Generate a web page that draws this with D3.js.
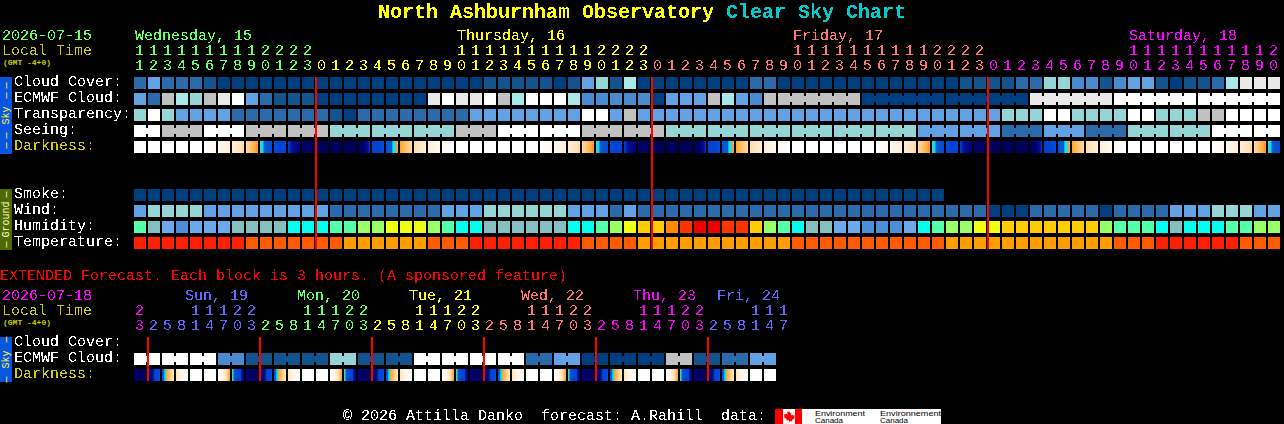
<!DOCTYPE html>
<html><head><meta charset="utf-8">
<script src="https://cdn.jsdelivr.net/npm/d3@7/dist/d3.min.js"></script>
<style>
html,body{margin:0;padding:0;background:#000;overflow:hidden}
svg{display:block}
text{font-family:"Liberation Mono","DejaVu Sans Mono",monospace;font-size:15px;white-space:pre;filter:url(#crisp)}
text.small{filter:none}
</style></head><body>
<svg id="c" width="1284" height="424"></svg>
<script>
// ---- hours of the hourly forecast ----
const hours = [11,12,13,14,15,16,17,18,19,20,21,22,23,
 0,1,2,3,4,5,6,7,8,9,10,11,12,13,14,15,16,17,18,19,20,21,22,23,
 0,1,2,3,4,5,6,7,8,9,10,11,12,13,14,15,16,17,18,19,20,21,22,23,
 0,1,2,3,4,5,6,7,8,9,10,11,12,13,14,15,16,17,18,19,20];
const days = ["Wednesday, 15","Thursday, 16","Friday, 17","Saturday, 18"];
const dayCols = [0,23,47,71];
const dayColors = ["#66ff66","#ffff00","#ff7777","#ff00ff"];

// ---- sky levels: 0 darkest blue ... 9 white ----
const skyColors = ["#003f7f","#13548f","#2b6bab","#4a8bd0","#62a2e4","#95d5d5","#a8e8e8","#c1c1c1","#e9e9e9","#ffffff"];
const cloudCover = [2,4,2,2,2,1,0,0,0,0,0,0,0,0,0,0,0,0,0,0,0,0,0,0,0,1,1,1,1,1,0,1,4,5,1,6,0,0,0,0,0,0,0,0,2,2,0,0,0,0,0,0,0,0,0,0,0,0,0,1,1,1,1,2,2,5,5,3,3,1,3,4,4,1,0,1,1,2,6,8,8,8];
const ecmwf = [4,2,7,6,5,7,8,9,4,2,1,1,1,0,0,0,0,0,0,0,0,8,9,8,8,9,7,6,9,9,9,6,3,3,3,3,3,0,4,4,4,7,6,4,3,7,7,7,7,7,7,7,0,0,0,0,0,0,0,0,0,0,0,0,8,8,8,8,8,8,9,9,9,9,9,9,9,9,9,9,9,9];
const ecmwfJoins = [[46,51],[52,57],[58,63],[64,69],[70,75],[76,81]];
const transparency = [5,9,5,4,4,4,4,2,2,2,2,2,2,2,1,0,2,2,2,2,2,2,2,2,4,4,4,4,4,4,4,4,9,9,4,7,4,4,4,4,4,4,4,4,4,4,4,4,4,4,4,4,4,4,4,4,4,4,4,4,4,4,5,5,5,9,9,5,5,5,5,9,9,5,5,5,7,7,9,9,9,9];
const seeing = [9,9,7,7,7,9,9,9,7,7,7,7,7,7,5,5,5,5,5,5,5,5,5,7,7,7,9,9,9,9,9,9,7,7,7,7,7,7,5,5,5,5,5,5,5,5,5,5,5,5,5,5,5,5,5,5,4,4,4,4,4,4,2,2,2,4,4,4,2,2,2,5,5,5,5,5,5,9,9,9,9,9];
const seeingJoins = [[0,1],[2,4],[5,7],[8,10],[11,13],[14,16],[17,19],[20,22],[23,25],[26,28],[29,31],[32,34],[35,37],[38,40],[41,43],[44,46],[47,49],[50,52],[53,55],[56,58],[59,61],[62,64],[65,67],[68,70],[71,73],[74,76],[77,79],[80,81]];
const smoke = [0,0,0,0,0,0,0,0,0,0,0,0,0,0,0,0,0,0,0,0,0,0,0,0,0,0,0,0,0,0,0,0,0,0,0,0,0,0,0,0,0,0,0,0,0,0,0,0,0,0,0,0,0,0,0,0,0,0];
const wind = [4,5,5,5,5,4,4,4,4,4,4,4,4,4,2,2,2,2,2,2,2,2,4,4,4,5,5,5,5,5,5,4,4,4,2,4,2,2,2,2,2,2,2,2,2,2,2,2,2,2,2,2,2,2,2,2,2,2,2,2,2,0,0,0,2,2,2,2,2,0,2,2,2,2,4,4,4,5,5,5,4,4];

// ---- humidity and temperature levels ----
const humidityColors = ["#ee0000","#ff3300","#ff8800","#ffcc00","#eeff11","#99ff66","#55ffaa","#00ffee","#85bfbf","#6ba9ea","#4d8fd6"];
const humidity = [6,8,9,10,9,9,9,8,8,8,8,7,7,7,6,6,5,5,4,4,4,5,6,7,7,8,8,8,8,8,8,7,7,6,5,4,3,3,2,1,0,0,1,1,3,5,6,7,8,8,9,9,10,10,10,9,7,6,5,5,4,4,3,3,3,3,3,3,3,5,6,6,6,7,8,7,7,7,6,6,5,5];
const tempColors = ["#ff2000","#ff5a00","#ff9d00"];
const temperature = [0,0,0,0,0,0,0,0,1,1,1,1,1,1,1,2,2,2,2,2,2,1,1,1,0,0,0,0,0,0,0,0,1,1,1,1,2,2,2,2,2,2,2,2,2,2,2,1,1,1,1,1,1,1,1,1,1,1,2,2,2,2,2,2,2,2,2,2,2,2,1,1,1,0,0,0,0,0,0,1,1,1];

// ---- darkness: one value per cell edge (0 daylight ... 9 full night) ----
const darkStops = [0,1,2,3,4,4.3,4.4,4.6,4.75,6,7,7.3,8,9];
const darkColors = ["#ffffff","#fff9ef","#ffeed6","#ffdcaa","#ffab3c","#ff9c00","#00e5ff","#00e5ff","#0a58d8","#0044d4","#0044d4","#00109a","#000070","#00005a"];
const darkness = [0,0,0,0,0,0,1,2,3,4.3,5.6,7,8,9,9,9,9,7,5.3,4.1,3,2,1,0,
 0,0,0,0,0,0,1,2,3,4.3,5.6,7,8,9,9,9,9,7,5.3,4.1,3,2,1,0,
 0,0,0,0,0,0,1,2,3,4.3,5.6,7,8,9,9,9,9,7,5.3,4.1,3,2,1,0,
 0,0,0,0,0,0,1,2,3,4.3,5.6];

// ---- extended forecast ----
const extHours = [23,2,5,8,11,14,17,20,23,2,5,8,11,14,17,20,23,2,5,8,11,14,17,20,23,2,5,8,11,14,17,20,23,2,5,8,11,14,17,20,23,2,5,8,11,14,17];
const extDays = ["Sun, 19","Mon, 20","Tue, 21","Wed, 22","Thu, 23","Fri, 24"];
const extDayCols = [4,12,20,28,36,42];
const extDayColors = ["#6666ff","#66ff66","#ffff00","#ff7777","#ff00ff","#6666ff"];
const extEcmwf = [9,9,9,9,9,9,3,3,1,1,1,1,1,1,5,5,1,1,1,1,9,9,9,9,9,9,9,9,2,2,4,4,0,0,0,0,0,0,7,7,1,1,2,2,4,4];
const extJoins = [[0,1],[2,3],[4,5],[6,7],[8,9],[10,11],[12,13],[14,15],[16,17],[18,19],[20,21],[22,23],[24,25],[26,27],[28,29],[30,31],[32,33],[34,35],[36,37],[38,39],[40,41],[42,43],[44,45]];
const extDarkness = [8.5,9,5.2,2.5,0.2,0,0,4.2,8,9,5.2,2.5,0.2,0,0,4.2,8,9,5.2,2.5,0.2,0,0,4.2,8,9,5.2,2.5,0.2,0,0,4.2,8,9,5.2,2.5,0.2,0,0,4.2,8,9,5.2,2.5,0.2,0,0];

const YEL="#cccc00", WHITE="#ffffff";
const svg = d3.select("#c");
const defs = svg.append("defs");
// threshold the glyph edges so the text keeps the hard, bitmap look of the reference
const crisp = defs.append("filter").attr("id","crisp").attr("color-interpolation-filters","sRGB")
  .attr("x","-5%").attr("y","-20%").attr("width","110%").attr("height","140%");
crisp.append("feComponentTransfer").append("feFuncA").attr("type","discrete").attr("tableValues","0 1");
svg.append("rect").attr("width",1284).attr("height",424).attr("fill","#000");

const x = d3.scaleBand().domain(d3.range(hours.length)).range([134,134+14*hours.length-2]).paddingInner(2/14).paddingOuter(0);
const xe = d3.scaleBand().domain(d3.range(extHours.length)).range([134,134+14*extHours.length-2]).paddingInner(2/14).paddingOuter(0);
const sky = d3.scaleOrdinal(d3.range(skyColors.length),skyColors);
const hum = d3.scaleOrdinal(d3.range(humidityColors.length),humidityColors);
const tmp = d3.scaleOrdinal(d3.range(tempColors.length),tempColors);
const dark = d3.scaleLinear().domain(darkStops).range(darkColors).interpolate(d3.interpolateRgb);
const dayColorAt = d3.scaleThreshold().domain([13,37,61]).range(dayColors);
const extColorAt = d3.scaleThreshold().domain([1,9,17,25,33,41]).range(["#ff00ff"].concat(extDayColors));

function txt(g,s,px,py,fill,opts={}){
  const t=g.append("text").attr("x",px).attr("y",py).attr("fill",fill).text(s);
  if(opts.size)t.style("font-size",opts.size+"px");
  if(opts.bold)t.style("font-weight","bold");
  if(opts.anchor)t.attr("text-anchor",opts.anchor);
  if(opts.small)t.attr("class","small");
  return t;
}
function cells(scale,values,color,top,joins=[]){
  const g=svg.append("g").attr("shape-rendering","crispEdges");
  g.selectAll("rect.c").data(values).join("rect").attr("class","c")
    .attr("x",(d,i)=>scale(i)).attr("y",top).attr("width",scale.bandwidth()).attr("height",12).attr("fill",d=>color(d));
  const links=joins.flatMap(([a,b])=>d3.range(a,b));
  g.selectAll("rect.j").data(links).join("rect").attr("class","j")
    .attr("x",i=>scale(i)+scale.bandwidth()).attr("y",top+3).attr("width",scale.step()-scale.bandwidth()).attr("height",6)
    .attr("fill",i=>color(values[i]));
}
let gid=0;
function darkCells(scale,edges,top){
  const g=svg.append("g").attr("shape-rendering","crispEdges");
  d3.range(edges.length-1).forEach(i=>{
    const id="dk"+(gid++), lg=defs.append("linearGradient").attr("id",id);
    const v=d3.scaleLinear().domain([0,1]).range([edges[i],edges[i+1]]);
    d3.range(0,1.001,1/24).forEach(t=>lg.append("stop").attr("offset",t).attr("stop-color",dark(v(t))));
    g.append("rect").attr("x",scale(i)).attr("y",top).attr("width",scale.bandwidth()).attr("height",12).attr("fill",`url(#${id})`);
  });
}
function labels(rows){ const g=svg.append("g"); rows.forEach(([s,y,c])=>txt(g,s,14,y,c)); }
function sideBar(y0,y1,fill,label,color){
  svg.append("rect").attr("x",0).attr("y",y0).attr("width",12).attr("height",y1-y0).attr("fill",fill).attr("shape-rendering","crispEdges");
  const m=(y0+y1)/2;
  svg.append("text").attr("class","small").attr("transform",`translate(9,${m}) rotate(-90)`).attr("text-anchor","middle")
    .attr("fill",color).style("font-size","10px").style("word-spacing","-2px").text(label);
}

// title
const title=svg.append("g");
txt(title,"North Ashburnham Observatory",378,18,"#ffff00",{size:20,bold:true});
txt(title,"Clear Sky Chart",726,18,"#00cccc",{size:20,bold:true});

// header
txt(svg,"2026-07-15",2,40,"#66ff66");
txt(svg,"Local Time",2,55,YEL);
txt(svg,"(GMT -4+0)",3,65,YEL,{size:8,bold:true,small:true});
days.forEach((d,i)=>txt(svg,d,x(dayCols[i])+1,40,dayColors[i]));
const hdr=svg.append("g").attr("text-anchor","middle");
hdr.selectAll("text.t").data(hours).join("text").attr("class","t")
  .attr("x",(h,i)=>x(i)+5.5).attr("y",55).attr("fill",(h,i)=>dayColorAt(i)).text(h=>h>=10?Math.floor(h/10):"");
hdr.selectAll("text.u").data(hours).join("text").attr("class","u")
  .attr("x",(h,i)=>x(i)+5.5).attr("y",70).attr("fill",(h,i)=>dayColorAt(i)).text(h=>h%10);

// sky + ground
labels([["Cloud Cover:",86,WHITE],["ECMWF Cloud:",102,WHITE],["Transparency:",118,WHITE],["Seeing:",134,WHITE],["Darkness:",150,YEL],
        ["Smoke:",198,WHITE],["Wind:",214,WHITE],["Humidity:",230,WHITE],["Temperature:",246,WHITE]]);
sideBar(77,154,"#0a55e0","\u2014 \u2014  Sky  \u2014 \u2014","#ffff33");
sideBar(189,250,"#4f6a00","\u2014 Ground \u2014","#ffffcc");
cells(x,cloudCover,sky,77);
cells(x,ecmwf,sky,93,ecmwfJoins);
cells(x,transparency,sky,109);
cells(x,seeing,sky,125,seeingJoins);
darkCells(x,darkness,141);
cells(x,smoke,sky,189);
cells(x,wind,sky,205);
cells(x,humidity,hum,221);
cells(x,temperature,tmp,237);
const mids=hours.map((h,i)=>h===0?i:-1).filter(i=>i>=0);
svg.append("g").selectAll("line").data(mids).join("line")
  .attr("x1",i=>x(i)).attr("x2",i=>x(i)).attr("y1",77).attr("y2",249)
  .attr("stroke","#ff0000").attr("stroke-width",2).attr("shape-rendering","crispEdges");

// extended
txt(svg,"EXTENDED Forecast. Each block is 3 hours. (A sponsored feature)",0,280,"#ff0000");
txt(svg,"2026-07-18",2,300,"#ff00ff");
txt(svg,"Local Time",2,315,YEL);
txt(svg,"(GMT -4+0)",3,325,YEL,{size:8,bold:true,small:true});
extDays.forEach((d,i)=>txt(svg,d,xe(extDayCols[i])-5,300,extDayColors[i]));
const ehdr=svg.append("g").attr("text-anchor","middle");
ehdr.selectAll("text.t").data(extHours).join("text").attr("class","t")
  .attr("x",(h,i)=>xe(i)+5.5).attr("y",315).attr("fill",(h,i)=>extColorAt(i)).text(h=>h>=10?Math.floor(h/10):"");
ehdr.selectAll("text.u").data(extHours).join("text").attr("class","u")
  .attr("x",(h,i)=>xe(i)+5.5).attr("y",330).attr("fill",(h,i)=>extColorAt(i)).text(h=>h%10);
labels([["Cloud Cover:",346,WHITE],["ECMWF Cloud:",362,WHITE],["Darkness:",378,YEL]]);
sideBar(337,382,"#0a55e0","\u2014  Sky  \u2014","#ffff33");
cells(xe,extEcmwf,sky,353,extJoins);
darkCells(xe,extDarkness,369);
const emids=extHours.map((h,i)=>h===2?i:-1).filter(i=>i>=0);
svg.append("g").selectAll("line").data(emids).join("line")
  .attr("x1",i=>xe(i)).attr("x2",i=>xe(i)).attr("y1",337).attr("y2",381)
  .attr("stroke","#ff0000").attr("stroke-width",2).attr("shape-rendering","crispEdges");

// footer
txt(svg,"\u00a9 2026 Attilla Danko  forecast: A.Rahill  data:",343,420,WHITE);
const logo=svg.append("g");
logo.append("rect").attr("x",775).attr("y",409).attr("width",166).attr("height",15).attr("fill","#fff");
logo.append("rect").attr("x",775).attr("y",409).attr("width",8).attr("height",15).attr("fill","#ff0000");
logo.append("rect").attr("x",795).attr("y",409).attr("width",7).attr("height",15).attr("fill","#ff0000");
logo.append("path").attr("fill","#ff0000").attr("d","M789 411l1.3 2.2 1.2-.6-.5 3 1.6-1.2.4 1 1.8-.2-.7 2.2.8.5-3 2.3.3 1.3-2.6-.4V422h-.6v-1.9l-2.6.4.3-1.3-3-2.3.8-.5-.7-2.2 1.8.2.4-1 1.6 1.2-.5-3 1.2.6z");
const lg2=logo.append("g").style("fill","#000");
[["Environment",815,416,50],["Canada",815,423,28],["Environnement",880,416,61],["Canada",880,423,28]].forEach(([s,px,py,w])=>{
  lg2.append("text").attr("class","small").attr("x",px).attr("y",py).attr("textLength",w).attr("lengthAdjust","spacingAndGlyphs")
    .style("font-family","'Liberation Sans',sans-serif").style("font-size","8px").text(s);
});
</script>
</body></html>
